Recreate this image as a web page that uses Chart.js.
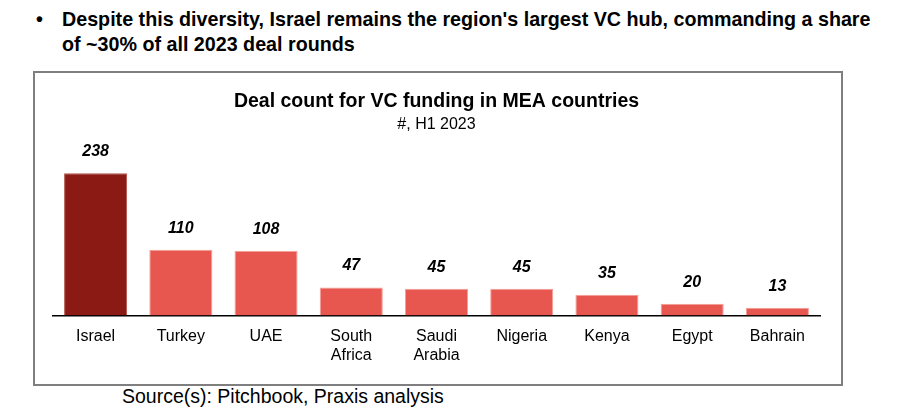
<!DOCTYPE html>
<html>
<head>
<meta charset="utf-8">
<script src="https://cdn.jsdelivr.net/npm/chart.js@4.4.0/dist/chart.umd.min.js"></script>
<style>
  body { margin: 0; background: #fff; width: 905px; height: 410px; position: relative; overflow: hidden; }
  .headline { position: absolute; left: 36px; top: 7px; width: 860px; font-family: "Liberation Sans", Arial, sans-serif; font-weight: bold; font-size: 19.7px; line-height: 25px; color: #000; }
  .headline .dot { position: absolute; left: 0; top: 0; }
  .headline .txt { margin-left: 26px; width: 825px; }
  .box { position: absolute; left: 33px; top: 71px; width: 806px; height: 311px; border: 2px solid #7f7f7f; }
  .source { position: absolute; left: 122px; top: 385px; font-family: "Liberation Sans", Arial, sans-serif; font-size: 19.5px; color: #000; }
</style>
</head>
<body>
<div class="headline"><span class="dot">•</span><div class="txt">Despite this diversity, Israel remains the region's largest VC hub, commanding a share of ~30% of all 2023 deal rounds</div></div>
<div class="box"><canvas id="chart" width="806" height="311"></canvas></div>
<div class="source">Source(s): Pitchbook, Praxis analysis</div>
<script>
// values
var countries = [['Israel'], ['Turkey'], ['UAE'], ['South', 'Africa'], ['Saudi', 'Arabia'], ['Nigeria'], ['Kenya'], ['Egypt'], ['Bahrain']];
var dealCounts = [238, 110, 108, 47, 45, 45, 35, 20, 13];

var fills = dealCounts.map(function(v, i) { return i === 0 ? '#8a1a13' : '#e8574f'; });
var edges = dealCounts.map(function(v, i) { return i === 0 ? '#b0524c' : '#f59d97'; });

// numbers above the bars
var valueLabels = {
  id: 'valueLabels',
  afterDatasetsDraw: function(chart) {
    var ctx = chart.ctx;
    var meta = chart.getDatasetMeta(0);
    ctx.save();
    ctx.font = 'italic bold 16px "Liberation Sans", Arial, sans-serif';
    ctx.fillStyle = '#000';
    ctx.textAlign = 'center';
    ctx.textBaseline = 'middle';
    meta.data.forEach(function(bar, i) {
      ctx.fillText(dealCounts[i], bar.x, bar.y - 21.5);
    });
    ctx.restore();
  }
};

new Chart(document.getElementById('chart'), {
  type: 'bar',
  data: {
    labels: countries,
    datasets: [{
      data: dealCounts,
      backgroundColor: fills,
      borderColor: edges,
      borderWidth: 1,
      barPercentage: 0.74,
      categoryPercentage: 1
    }]
  },
  options: {
    responsive: false,
    animation: false,
    layout: { padding: { left: 18, right: 21, top: 0, bottom: 8 } },
    plugins: {
      legend: { display: false },
      tooltip: { enabled: false },
      title: {
        display: true,
        text: 'Deal count for VC funding in MEA countries',
        color: '#000',
        font: { family: '"Liberation Sans", Arial, sans-serif', size: 19.5, weight: 'bold' },
        padding: { top: 17, bottom: 2 }
      },
      subtitle: {
        display: true,
        text: '#, H1 2023',
        color: '#000',
        font: { family: '"Liberation Sans", Arial, sans-serif', size: 16 },
        padding: { top: 0, bottom: 1.5 }
      }
    },
    scales: {
      x: {
        grid: { display: false, drawTicks: false },
        border: { display: true, color: '#000', width: 1.5 },
        ticks: { color: '#000', padding: 11, font: { family: '"Liberation Sans", Arial, sans-serif', size: 16, lineHeight: 1.2 } }
      },
      y: { display: false, min: 0, max: 300 }
    }
  },
  plugins: [valueLabels]
});
</script>
</body>
</html>
